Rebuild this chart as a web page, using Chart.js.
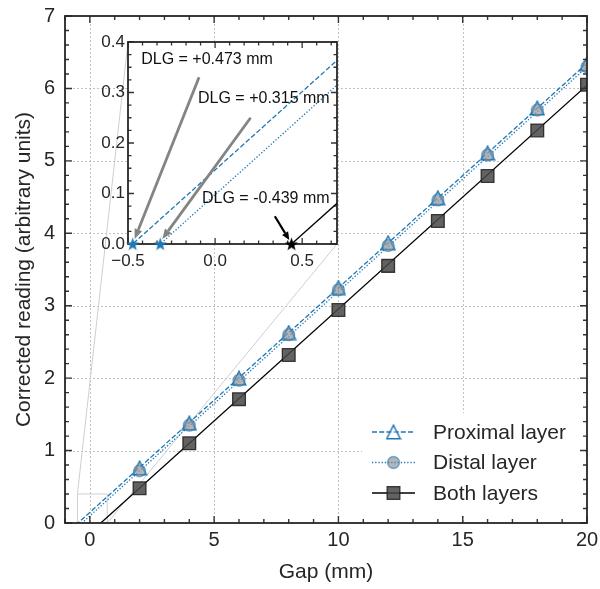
<!DOCTYPE html>
<html><head><meta charset="utf-8">
<script src="https://cdn.jsdelivr.net/npm/chart.js@4.4.1/dist/chart.umd.min.js"></script>
<style>
html,body{margin:0;padding:0;background:#fff;}
#wrap{position:relative;width:600px;height:589px;overflow:hidden;}
canvas{position:absolute;left:0;top:0;}
</style></head><body>
<div id="wrap"><canvas id="main" width="600" height="589"></canvas><canvas id="inset" width="600" height="589"></canvas></div>
<script>
// ---------- data ----------
const gapMM = [2, 4, 6, 8, 10, 12, 14, 16, 18, 20];
const proximal = [0.76, 1.38, 2.00, 2.63, 3.25, 3.87, 4.49, 5.11, 5.73, 6.34];
const distal   = [0.72, 1.35, 1.97, 2.60, 3.22, 3.83, 4.46, 5.08, 5.70, 6.30];
const both     = [0.48, 1.10, 1.71, 2.32, 2.94, 3.55, 4.17, 4.79, 5.42, 6.05];
const seriesNames = ['Proximal layer', 'Distal layer', 'Both layers'];
const fitSlope = [0.310, 0.310, 0.309];
const dlgMM = [0.473, 0.315, -0.439];
const xTicks = [0, 5, 10, 15, 20];
const xTickLabels = ['0', '5', '10', '15', '20'];
const yTicks = [0, 1, 2, 3, 4, 5, 6, 7];
const yTickLabels = ['0', '1', '2', '3', '4', '5', '6', '7'];
const xRange = [-1, 20];
const yRange = [0, 7];
const insetXRange = [-0.5, 0.7];
const insetYRange = [0, 0.4];
const insetXTicks = [-0.5, 0, 0.5];
const insetXTickLabels = ['\u22120.5', '0.0', '0.5'];
const insetYTicks = [0, 0.1, 0.2, 0.3, 0.4];
const insetYTickLabels = ['0.0', '0.1', '0.2', '0.3', '0.4'];

// ---------- style ----------
const FONT = "'Liberation Sans', Arial, Helvetica, sans-serif";
const BLUE = '#1f77b4';
const TXT = '#262626';
const INSET = {left: 128, top: 42, right: 337, bottom: 244};

function makeTriangle(size, stroke, lw) {
  const c = document.createElement('canvas'); c.width = size; c.height = size;
  const g = c.getContext('2d');
  const h = lw / 2 + 0.5;
  g.beginPath(); g.moveTo(size / 2, h); g.lineTo(size - h, size - h); g.lineTo(h, size - h); g.closePath();
  g.fillStyle = 'rgba(255,255,255,0.35)'; g.fill();
  g.lineWidth = lw; g.strokeStyle = stroke; g.lineJoin = 'miter'; g.stroke();
  return c;
}
function makeStar(size, color) {
  const c = document.createElement('canvas'); c.width = size; c.height = size;
  const g = c.getContext('2d');
  const cx = size / 2, cy = size / 2 + 0.6, R = size / 2 - 0.5, r = R * 0.4;
  g.beginPath();
  for (let i = 0; i < 10; i++) {
    const ang = -Math.PI / 2 + i * Math.PI / 5;
    const rr = i % 2 === 0 ? R : r;
    const px = cx + rr * Math.cos(ang), py = cy + rr * Math.sin(ang);
    if (i === 0) g.moveTo(px, py); else g.lineTo(px, py);
  }
  g.closePath(); g.fillStyle = color; g.fill();
  return c;
}
const triImg = makeTriangle(16, BLUE, 1.5);
const starBlue = makeStar(15, BLUE);
const starBlack = makeStar(15, '#000');

const lineStyles = [
  {color: BLUE, dash: [5, 2.2], width: 1.3},
  {color: BLUE, dash: [1.3, 1.9], width: 1.3},
  {color: '#000', dash: [], width: 1.3}
];
const markerStyles = [
  {pointStyle: triImg, pointRadius: 8, backgroundColor: 'rgba(0,0,0,0)', borderColor: BLUE, borderWidth: 0},
  {pointStyle: 'circle', pointRadius: 6, backgroundColor: 'rgba(125,135,145,0.62)', borderColor: 'rgba(31,119,180,0.55)', borderWidth: 1.3},
  {pointStyle: 'rect', pointRadius: 9, backgroundColor: 'rgba(70,70,70,0.85)', borderColor: 'rgba(20,20,20,0.8)', borderWidth: 1.3}
];
const seriesValues = [proximal, distal, both];

function fitPoints(i, x0, x1) {
  return [{x: x0, y: fitSlope[i] * (x0 + dlgMM[i])}, {x: x1, y: fitSlope[i] * (x1 + dlgMM[i])}];
}
function dlgLabel(i) {
  const v = dlgMM[i];
  return 'DLG = ' + (v >= 0 ? '+' : '-') + Math.abs(v).toFixed(3) + ' mm';
}
function zeroPad(s) { s.paddingTop = 0; s.paddingBottom = 0; s.paddingLeft = 0; s.paddingRight = 0; }

function drawInTicks(ctx, a, xs, ys, xMaj, xMin, yMaj, yMin, LM, Lm, lw) {
  ctx.save();
  ctx.strokeStyle = '#333'; ctx.lineWidth = lw; ctx.setLineDash([]);
  ctx.beginPath();
  const vx = (v, L) => { const p = xs.getPixelForValue(v); ctx.moveTo(p, a.bottom); ctx.lineTo(p, a.bottom - L); ctx.moveTo(p, a.top); ctx.lineTo(p, a.top + L); };
  const vy = (v, L) => { const p = ys.getPixelForValue(v); ctx.moveTo(a.left, p); ctx.lineTo(a.left + L, p); ctx.moveTo(a.right, p); ctx.lineTo(a.right - L, p); };
  xMaj.forEach(v => vx(v, LM)); xMin.forEach(v => vx(v, Lm));
  yMaj.forEach(v => vy(v, LM)); yMin.forEach(v => vy(v, Lm));
  ctx.stroke();
  ctx.restore();
}
function minorList(lo, hi, step, majors) {
  const out = []; const n = Math.round((hi - lo) / step);
  for (let k = 0; k <= n; k++) {
    const v = lo + k * step;
    if (!majors.some(m => Math.abs(m - v) < step / 10)) out.push(v);
  }
  return out;
}
function arrow(ctx, x1, y1, x2, y2, color, lw, hl, hw) {
  const ang = Math.atan2(y2 - y1, x2 - x1);
  const bx = x2 - hl * Math.cos(ang), by = y2 - hl * Math.sin(ang);
  ctx.save();
  ctx.strokeStyle = color; ctx.fillStyle = color; ctx.lineWidth = lw; ctx.lineCap = 'butt';
  ctx.beginPath(); ctx.moveTo(x1, y1); ctx.lineTo(bx, by); ctx.stroke();
  ctx.beginPath(); ctx.moveTo(x2, y2);
  ctx.lineTo(bx + hw / 2 * Math.sin(ang), by - hw / 2 * Math.cos(ang));
  ctx.lineTo(bx - hw / 2 * Math.sin(ang), by + hw / 2 * Math.cos(ang));
  ctx.closePath(); ctx.fill();
  ctx.restore();
}

// ---------- main chart ----------
const mainDecor = {
  id: 'mainDecor',
  beforeDatasetsDraw(chart) {
    const {ctx, chartArea: a, scales: {x, y}} = chart;
    ctx.save();
    ctx.beginPath(); ctx.rect(a.left, a.top, a.right - a.left, a.bottom - a.top); ctx.clip();
    ctx.strokeStyle = '#b3b3b3'; ctx.lineWidth = 0.8; ctx.setLineDash([2, 2]);
    ctx.beginPath();
    xTicks.forEach(v => { const p = Math.round(x.getPixelForValue(v)) + 0.5; ctx.moveTo(p, a.top); ctx.lineTo(p, a.bottom); });
    yTicks.forEach(v => { const p = Math.round(y.getPixelForValue(v)) + 0.5; ctx.moveTo(a.left, p); ctx.lineTo(a.right, p); });
    ctx.stroke();
    // inset indicator rectangle and connectors
    ctx.setLineDash([]); ctx.strokeStyle = '#cfcfcf'; ctx.lineWidth = 1;
    const rx0 = x.getPixelForValue(insetXRange[0]), rx1 = x.getPixelForValue(insetXRange[1]);
    const ry0 = y.getPixelForValue(insetYRange[0]), ry1 = y.getPixelForValue(insetYRange[1]);
    ctx.beginPath();
    ctx.rect(rx0, ry1, rx1 - rx0, ry0 - ry1);
    ctx.moveTo(rx0, ry1); ctx.lineTo(INSET.left, INSET.top);
    ctx.moveTo(rx1, ry0); ctx.lineTo(INSET.right, INSET.bottom);
    ctx.stroke();
    ctx.restore();
  },
  afterDatasetsDraw(chart) {
    const {ctx, chartArea: a, scales: {x, y}} = chart;
    // legend
    ctx.save();
    ctx.fillStyle = '#fff';
    ctx.fillRect(362, 413, 222, 103);
    const rows = [432, 462.5, 493];
    for (let i = 0; i < 3; i++) {
      const ry = rows[i], ls = lineStyles[i], ms = markerStyles[i];
      ctx.save();
      ctx.strokeStyle = ls.color; ctx.lineWidth = ls.width; ctx.setLineDash(ls.dash);
      ctx.beginPath(); ctx.moveTo(372, ry); ctx.lineTo(415, ry); ctx.stroke();
      ctx.restore();
      const mx = 393.5;
      ctx.save(); ctx.setLineDash([]);
      if (i === 0) {
        ctx.drawImage(triImg, mx - triImg.width / 2, ry - triImg.height / 2);
      } else if (i === 1) {
        ctx.beginPath(); ctx.arc(mx, ry, ms.pointRadius, 0, Math.PI * 2);
        ctx.fillStyle = ms.backgroundColor; ctx.fill();
        ctx.strokeStyle = ms.borderColor; ctx.lineWidth = ms.borderWidth; ctx.stroke();
      } else {
        const s = ms.pointRadius * Math.SQRT1_2;
        ctx.fillStyle = ms.backgroundColor; ctx.fillRect(mx - s, ry - s, 2 * s, 2 * s);
        ctx.strokeStyle = ms.borderColor; ctx.lineWidth = ms.borderWidth; ctx.strokeRect(mx - s, ry - s, 2 * s, 2 * s);
      }
      ctx.restore();
      ctx.fillStyle = TXT; ctx.font = '21px ' + FONT; ctx.textBaseline = 'middle'; ctx.textAlign = 'left';
      ctx.fillText(seriesNames[i], 433, ry + 1);
    }
    ctx.restore();
    // frame + ticks
    drawInTicks(ctx, a, x, y, xTicks, minorList(xRange[0], xRange[1], 1, xTicks),
      yTicks, minorList(yRange[0], yRange[1], 0.2, yTicks), 7, 4, 1.4);
    ctx.save();
    ctx.strokeStyle = '#262626'; ctx.lineWidth = 1.8;
    ctx.strokeRect(a.left, a.top, a.right - a.left, a.bottom - a.top);
    ctx.restore();
  }
};

const mainDatasets = [];
for (let i = 0; i < 3; i++) {
  mainDatasets.push({
    label: seriesNames[i] + ' marker',
    data: gapMM.map((g, k) => ({x: g, y: seriesValues[i][k]})),
    showLine: false,
    pointStyle: markerStyles[i].pointStyle,
    pointRadius: markerStyles[i].pointRadius,
    backgroundColor: markerStyles[i].backgroundColor,
    borderColor: markerStyles[i].borderColor,
    borderWidth: markerStyles[i].borderWidth,
    clip: 0,
    order: 3 - i
  });
}
for (let i = 0; i < 3; i++) {
  mainDatasets.push({
    label: seriesNames[i] + ' fit',
    data: fitPoints(i, xRange[0], xRange[1]),
    showLine: true, pointRadius: 0,
    borderColor: lineStyles[i].color, borderWidth: lineStyles[i].width, borderDash: lineStyles[i].dash,
    clip: 0, order: 10 + i
  });
}

new Chart(document.getElementById('main'), {
  type: 'scatter',
  data: {datasets: mainDatasets},
  options: {
    responsive: false, animation: false, events: [],
    layout: {autoPadding: false, padding: {left: 0, top: 16, right: 13, bottom: 0}},
    plugins: {legend: {display: false}, tooltip: {enabled: false}},
    scales: {
      x: {
        type: 'linear', min: xRange[0], max: xRange[1],
        grid: {display: false, drawTicks: false}, border: {display: false},
        afterBuildTicks: s => { s.ticks = xTicks.map(v => ({value: v})); },
        ticks: {font: {family: FONT, size: 20}, color: TXT, padding: 5, autoSkip: false, maxRotation: 0,
          callback: (v, i) => xTickLabels[i]},
        title: {display: true, text: 'Gap (mm)', font: {family: FONT, size: 21}, color: TXT, padding: {top: 0, bottom: 4}},
        afterFit: s => { s.height = 66; zeroPad(s); }
      },
      y: {
        type: 'linear', min: yRange[0], max: yRange[1],
        grid: {display: false, drawTicks: false}, border: {display: false},
        afterBuildTicks: s => { s.ticks = yTicks.map(v => ({value: v})); },
        ticks: {font: {family: FONT, size: 20}, color: TXT, padding: 10, autoSkip: false,
          callback: (v, i) => yTickLabels[i]},
        title: {display: true, text: 'Corrected reading (arbitrary units)', font: {family: FONT, size: 21}, color: TXT, padding: {top: 12, bottom: 0}},
        afterFit: s => { s.width = 65; zeroPad(s); }
      }
    }
  },
  plugins: [mainDecor]
});

// ---------- inset chart ----------
const insetDecor = {
  id: 'insetDecor',
  beforeDatasetsDraw(chart) {
    const {ctx, chartArea: a, scales: {x, y}} = chart;
    ctx.save();
    ctx.fillStyle = '#fff';
    ctx.fillRect(a.left, a.top, a.right - a.left, a.bottom - a.top);
    ctx.restore();
    drawInTicks(ctx, a, x, y, insetXTicks, minorList(insetXRange[0], insetXRange[1], 0.5 / 6, insetXTicks),
      insetYTicks, minorList(insetYRange[0], insetYRange[1], 0.025, insetYTicks), 6, 3.5, 1.3);
    ctx.save();
    ctx.strokeStyle = '#262626'; ctx.lineWidth = 1.8;
    ctx.strokeRect(a.left, a.top, a.right - a.left, a.bottom - a.top);
    ctx.restore();
  },
  afterDatasetsDraw(chart) {
    const {ctx, scales: {x, y}} = chart;
    const P = (vx, vy) => [x.getPixelForValue(vx), y.getPixelForValue(vy)];
    // arrows
    let t, h;
    t = P(-0.092, 0.330); h = P(-0.462, 0.010); arrow(ctx, t[0], t[1], h[0], h[1], '#848484', 2.8, 10, 8);
    t = P(0.204, 0.250); h = P(-0.303, 0.010); arrow(ctx, t[0], t[1], h[0], h[1], '#848484', 2.8, 10, 8);
    t = P(0.343, 0.055); h = P(0.426, 0.008); arrow(ctx, t[0], t[1], h[0], h[1], '#000', 2.2, 8, 7);
    // labels
    ctx.save();
    ctx.fillStyle = '#111'; ctx.font = '16px ' + FONT; ctx.textBaseline = 'middle'; ctx.textAlign = 'left';
    let p;
    p = P(-0.424, 0.366); ctx.fillText(dlgLabel(0), p[0], p[1]);
    p = P(-0.098, 0.287); ctx.fillText(dlgLabel(1), p[0], p[1]);
    p = P(-0.075, 0.089); ctx.fillText(dlgLabel(2), p[0], p[1]);
    ctx.restore();
  }
};

const insetDatasets = [];
for (let i = 0; i < 3; i++) {
  insetDatasets.push({
    label: seriesNames[i] + ' fit',
    data: fitPoints(i, insetXRange[0], insetXRange[1]),
    showLine: true, pointRadius: 0,
    borderColor: lineStyles[i].color, borderWidth: lineStyles[i].width, borderDash: lineStyles[i].dash,
    clip: 0, order: 10 + i
  });
}
for (let i = 0; i < 3; i++) {
  insetDatasets.push({
    label: seriesNames[i] + ' intercept',
    data: [{x: -dlgMM[i], y: 0}],
    showLine: false,
    pointStyle: i < 2 ? starBlue : starBlack, pointRadius: 7,
    clip: false, order: 1 + i
  });
}

new Chart(document.getElementById('inset'), {
  type: 'scatter',
  data: {datasets: insetDatasets},
  options: {
    responsive: false, animation: false, events: [],
    layout: {autoPadding: false, padding: {left: INSET.left - 40, top: INSET.top, right: 600 - INSET.right, bottom: 589 - INSET.bottom - 30}},
    plugins: {legend: {display: false}, tooltip: {enabled: false}},
    scales: {
      x: {
        type: 'linear', min: insetXRange[0], max: insetXRange[1],
        grid: {display: false, drawTicks: false}, border: {display: false},
        afterBuildTicks: s => { s.ticks = insetXTicks.map(v => ({value: v})); },
        ticks: {font: {family: FONT, size: 17}, color: TXT, padding: 7, autoSkip: false, maxRotation: 0,
          callback: (v, i) => insetXTickLabels[i]},
        afterFit: s => { s.height = 30; zeroPad(s); }
      },
      y: {
        type: 'linear', min: insetYRange[0], max: insetYRange[1],
        grid: {display: false, drawTicks: false}, border: {display: false},
        afterBuildTicks: s => { s.ticks = insetYTicks.map(v => ({value: v})); },
        ticks: {font: {family: FONT, size: 17}, color: TXT, padding: 3, autoSkip: false,
          callback: (v, i) => insetYTickLabels[i]},
        afterFit: s => { s.width = 40; zeroPad(s); }
      }
    }
  },
  plugins: [insetDecor]
});
</script>
</body></html>
